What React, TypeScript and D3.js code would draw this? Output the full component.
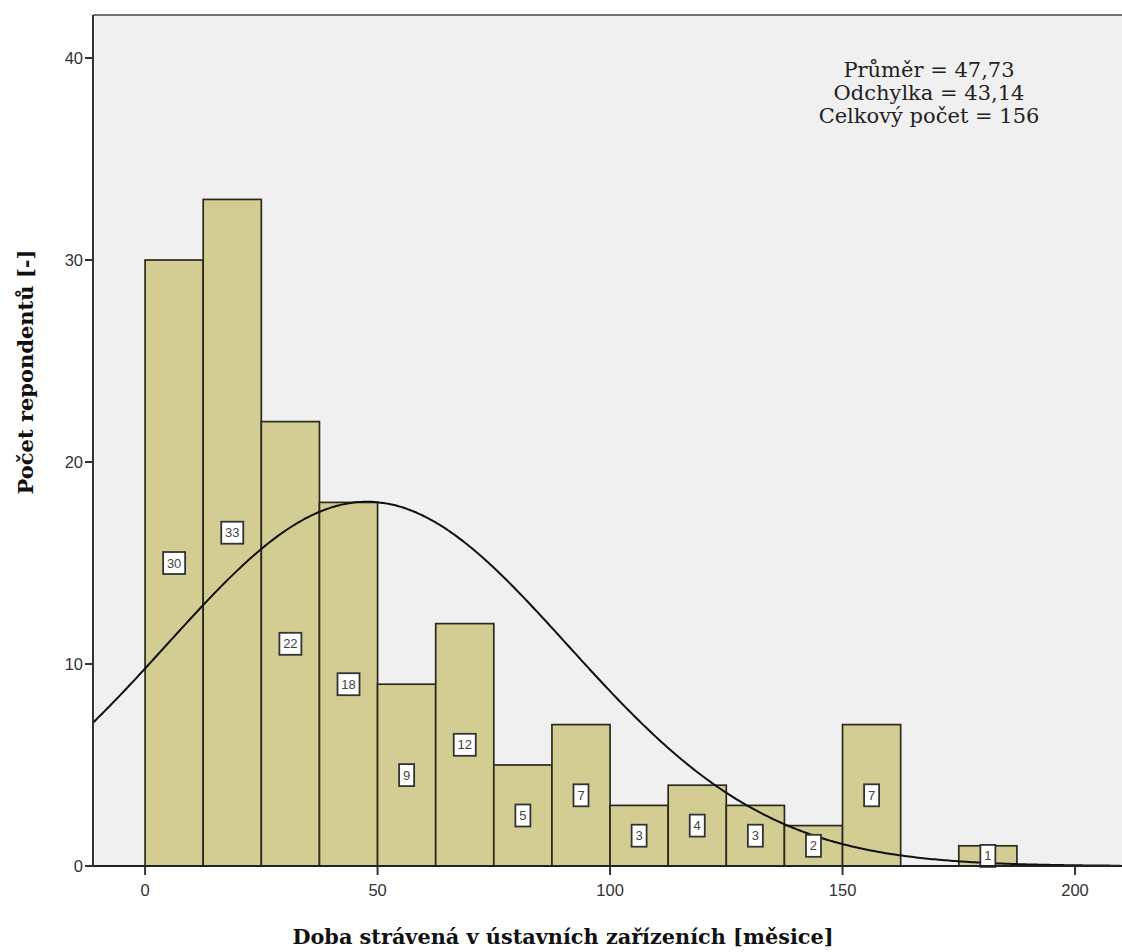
import React from "react";
import * as d3 from "d3";

const binStarts = [0, 12.5, 25, 37.5, 50, 62.5, 75, 87.5, 100, 112.5, 125, 137.5, 150, 162.5, 175];
const binWidth = 12.5;
const counts = [30, 33, 22, 18, 9, 12, 5, 7, 3, 4, 3, 2, 7, 0, 1];
const xTicks = [0, 50, 100, 150, 200];
const yTicks = [0, 10, 20, 30, 40];
const meanVal = 47.73;
const sdVal = 43.14;
const totalN = 156;
const statLines = ["Průměr = 47,73", "Odchylka = 43,14", "Celkový počet = 156"];
const xTitle = "Doba strávená v ústavních zařízeních [měsice]";
const yTitle = "Počet repondentů [-]";

const W = 1122;
const H = 952;
const L = 93;
const R = 1122;
const T = 15;
const B = 866;

export default function App() {
  const x = d3.scaleLinear().domain([-11.2, 210.1]).range([L, R]);
  const y = d3.scaleLinear().domain([0, 42.13]).range([B, T]);

  const pdf = (v: number) =>
    (totalN * binWidth) / (sdVal * Math.sqrt(2 * Math.PI)) *
    Math.exp(-0.5 * ((v - meanVal) / sdVal) ** 2);
  const xs = d3.range(-11.2, 210.2, 0.5);
  const line = d3
    .line<number>()
    .x((v) => x(v))
    .y((v) => y(pdf(v)))
    .curve(d3.curveMonotoneX);

  const sans = "Liberation Sans, Arial, sans-serif";
  const serif = "DejaVu Serif, serif";

  return (
    <svg
      width={W}
      height={H}
      style={{ position: "absolute", left: 0, top: 0, background: "#fff" }}
    >
      <defs>
        <clipPath id="plot">
          <rect x={L} y={T} width={R - L} height={B - T} />
        </clipPath>
      </defs>
      <rect x={L} y={T} width={R - L} height={B - T} fill="#f0f0f0" />
      {counts.map((c, i) =>
        c > 0 ? (
          <rect
            key={"b" + i}
            x={x(binStarts[i])}
            y={y(c)}
            width={x(binStarts[i] + binWidth) - x(binStarts[i])}
            height={y(0) - y(c)}
            fill="#d3cd94"
            stroke="#2b2a1c"
            strokeWidth={1.7}
          />
        ) : null
      )}
      <path
        d={line(xs) || ""}
        fill="none"
        stroke="#111"
        strokeWidth={2}
        clipPath="url(#plot)"
      />
      {counts.map((c, i) => {
        if (c <= 0) return null;
        const cx = x(binStarts[i] + binWidth / 2);
        const cy = y(c / 2);
        const label = String(c);
        const bw = label.length > 1 ? 22 : 15;
        const bh = 22;
        return (
          <g key={"l" + i}>
            <rect
              x={cx - bw / 2}
              y={cy - bh / 2}
              width={bw}
              height={bh}
              fill="#fff"
              stroke="#333"
              strokeWidth={1.8}
            />
            <text
              x={cx}
              y={cy + 4.5}
              textAnchor="middle"
              fontFamily={sans}
              fontSize={13}
              fill="#444"
            >
              {label}
            </text>
          </g>
        );
      })}
      {/* frame */}
      <line x1={L} y1={T} x2={R} y2={T} stroke="#444" strokeWidth={1.5} />
      <line x1={L} y1={T} x2={L} y2={B} stroke="#333" strokeWidth={2} />
      <line x1={L} y1={B} x2={R} y2={B} stroke="#222" strokeWidth={2} />
      {yTicks.map((t) => (
        <g key={"yt" + t}>
          <line x1={L - 8} y1={y(t)} x2={L} y2={y(t)} stroke="#333" strokeWidth={2} />
          <text
            x={L - 10}
            y={y(t) + 6}
            textAnchor="end"
            fontFamily={sans}
            fontSize={16.5}
            fill="#333"
          >
            {t}
          </text>
        </g>
      ))}
      {xTicks.map((t) => (
        <g key={"xt" + t}>
          <line x1={x(t)} y1={B} x2={x(t)} y2={B + 9} stroke="#333" strokeWidth={2} />
          <text
            x={x(t)}
            y={B + 30}
            textAnchor="middle"
            fontFamily={sans}
            fontSize={16.5}
            fill="#333"
          >
            {t}
          </text>
        </g>
      ))}
      {statLines.map((s, i) => (
        <text
          key={"s" + i}
          x={929}
          y={77 + i * 23}
          textAnchor="middle"
          fontFamily={serif}
          fontSize={21}
          fill="#222"
        >
          {s}
        </text>
      ))}
      <text
        x={563}
        y={944}
        textAnchor="middle"
        fontFamily={serif}
        fontWeight="bold"
        fontSize={20.8}
        fill="#111"
      >
        {xTitle}
      </text>
      <text
        transform={`translate(33, 372) rotate(-90)`}
        textAnchor="middle"
        fontFamily={serif}
        fontWeight="bold"
        fontSize={21}
        fill="#111"
      >
        {yTitle}
      </text>
    </svg>
  );
}
